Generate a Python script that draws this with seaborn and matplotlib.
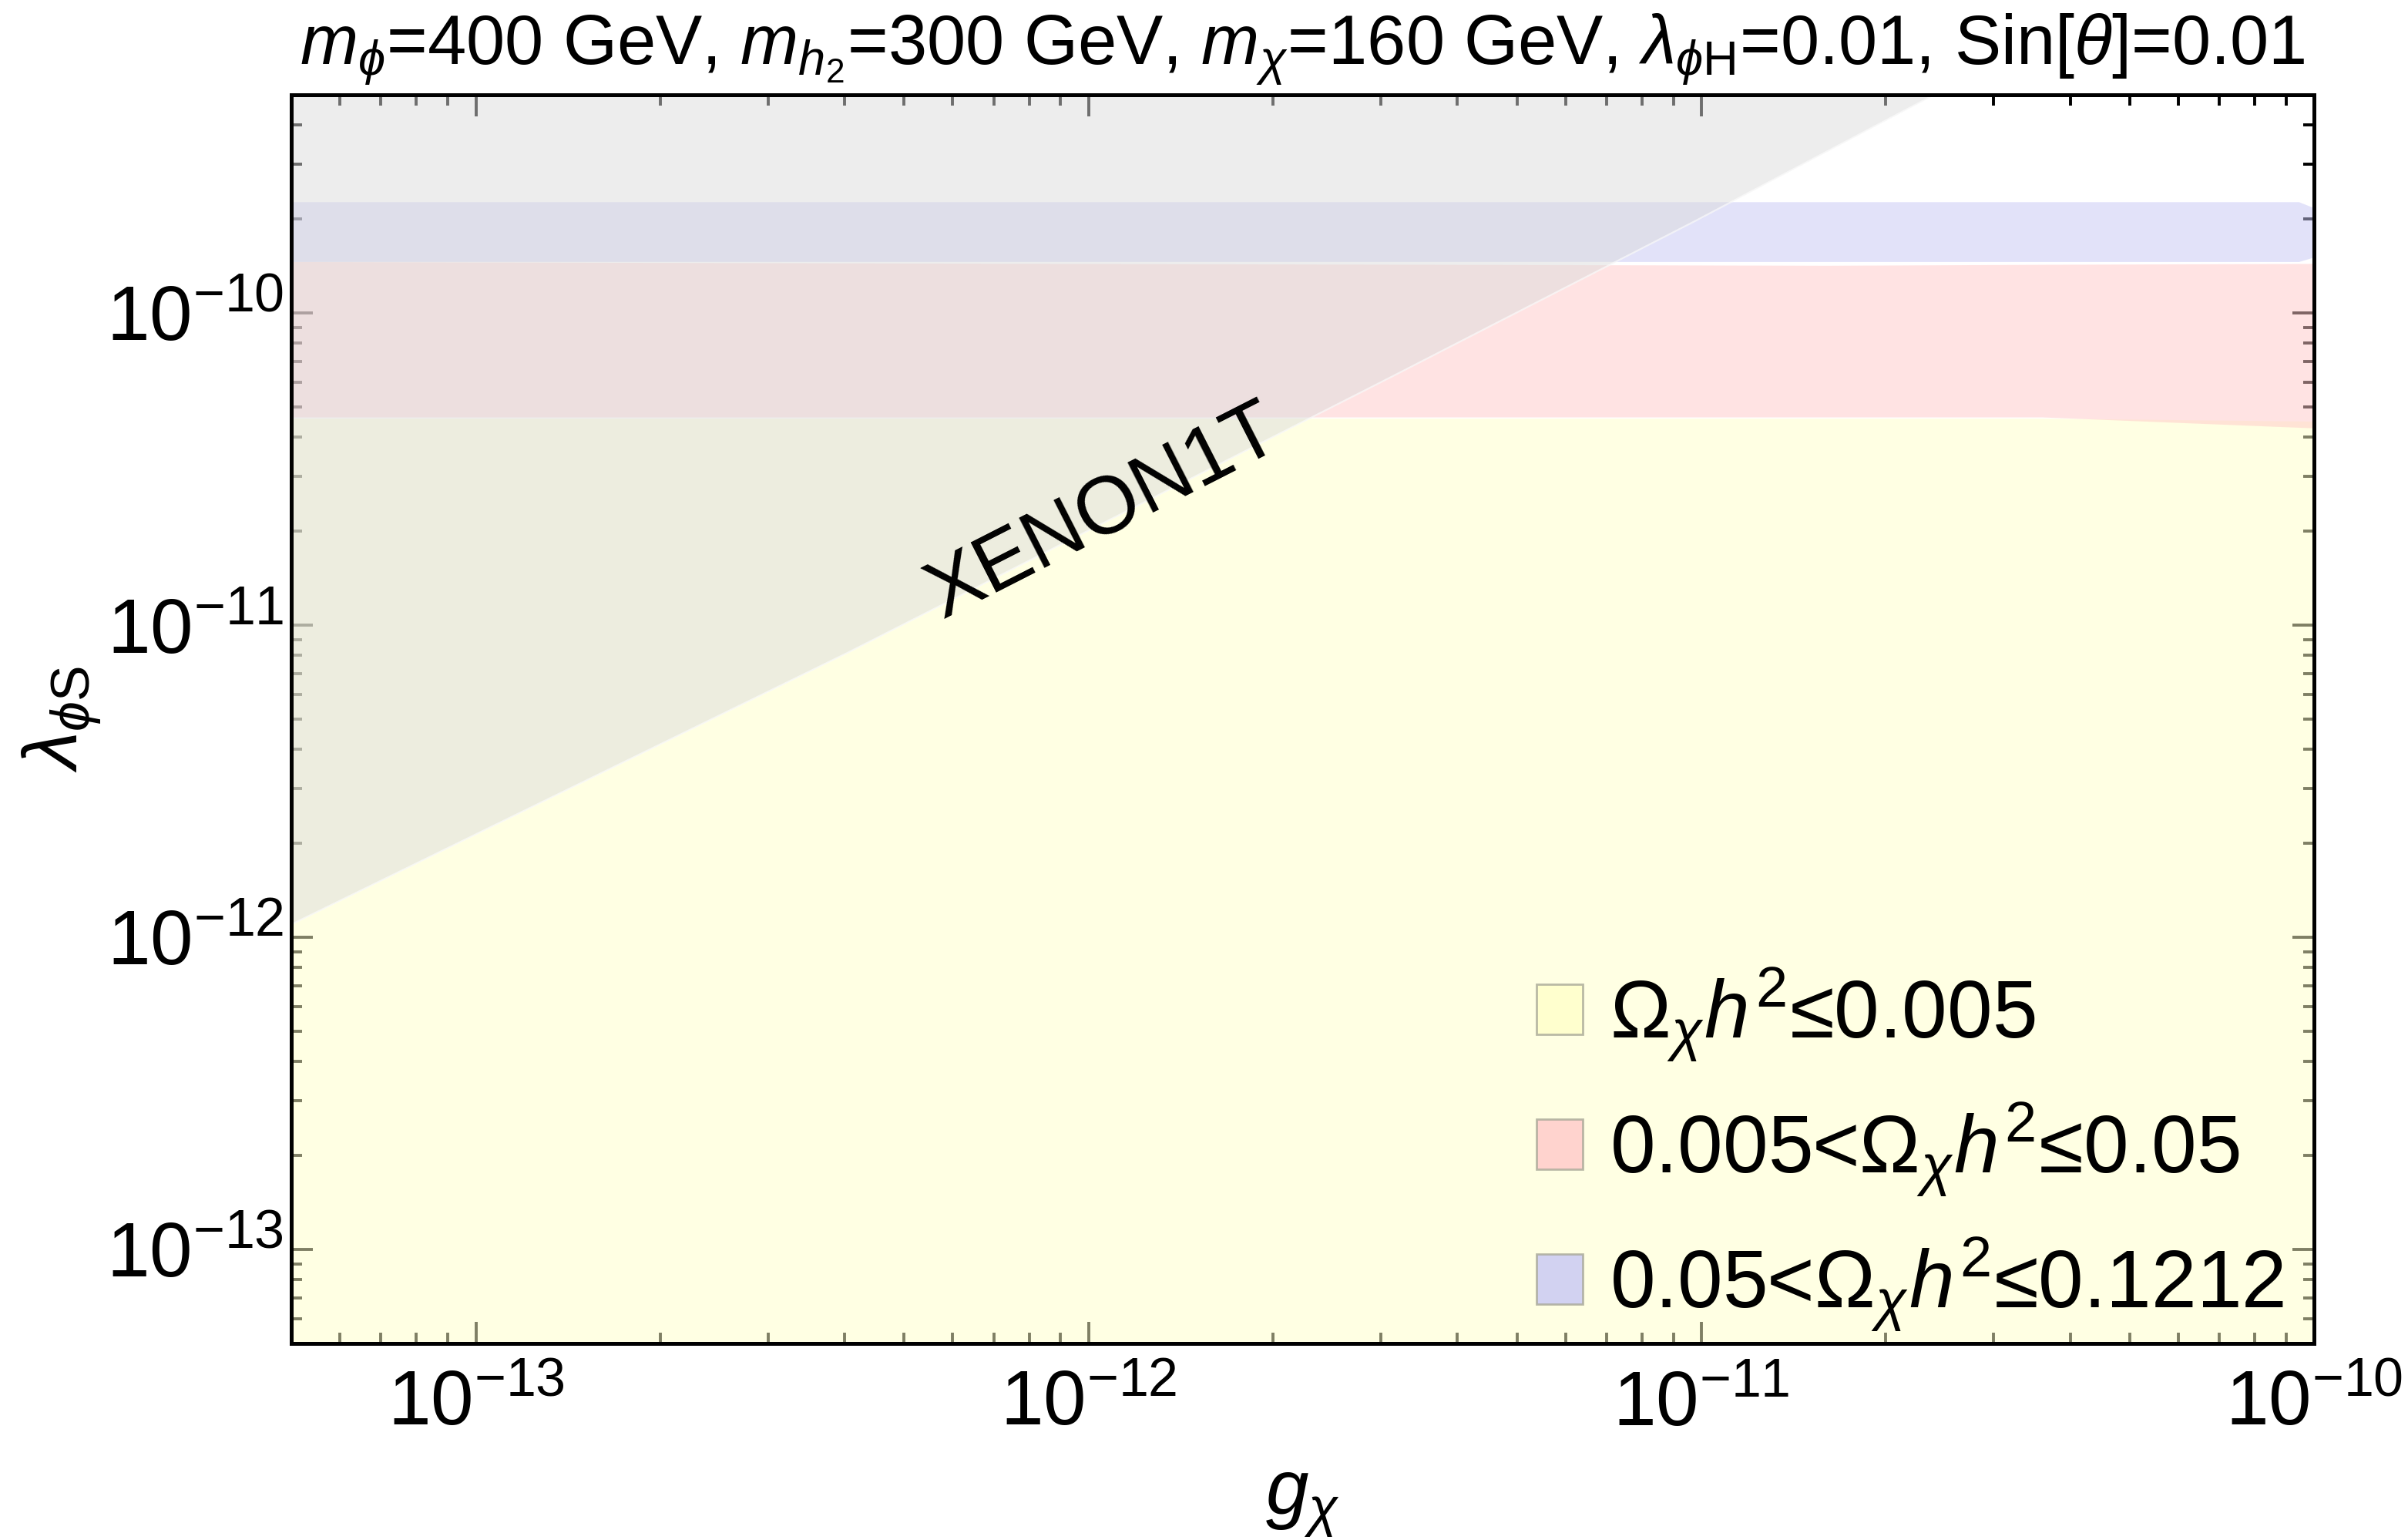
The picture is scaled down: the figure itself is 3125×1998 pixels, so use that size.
import numpy as np
import pandas as pd
import matplotlib
matplotlib.use("Agg")
import matplotlib.pyplot as plt
import seaborn as sns
from matplotlib.patches import Patch
from matplotlib.ticker import LogLocator, NullFormatter

# region boundaries (g_X, lambda_phiS)
g_xenon = [5.0e-14, 4.04e-13, 3.07e-12, 9.77e-12, 2.41e-11]
lam_xenon = [1.10e-12, 8.15e-12, 6.14e-11, 1.97e-10, 5.02e-10]

g_yellow = [5e-14, 3.6e-11, 1e-10]
lam_yellow_top = [4.60e-11, 4.60e-11, 4.50e-11]

g_red = [5e-14, 1.6e-11, 3.6e-11, 1e-10]
lam_red_top = [1.46e-10, 1.42e-10, 1.43e-10, 1.44e-10]
lam_red_bot = [4.64e-11, 4.64e-11, 4.64e-11, 4.28e-11]

g_blue = [5e-14, 1.6e-11, 9.44e-11, 1e-10]
lam_blue_top = [2.27e-10, 2.27e-10, 2.27e-10, 2.17e-10]
lam_blue_bot = [1.46e-10, 1.46e-10, 1.46e-10, 1.51e-10]

legend_labels = [r"$\Omega_\chi h^2$≤0.005",
                 r"0.005<$\Omega_\chi h^2$≤0.05",
                 r"0.05<$\Omega_\chi h^2$≤0.1212"]
fill_colors = ["#ffffc9", "#ffc9c9", "#c7c7f5"]

xlim = (5e-14, 1e-10)
ylim = (5e-14, 5e-10)

sns.set_theme(style="ticks")
plt.rcParams.update({
    "font.family": ["Liberation Sans", "DejaVu Sans"],
    "mathtext.fontset": "custom",
    "mathtext.rm": "Liberation Sans",
    "mathtext.it": "Liberation Sans:italic",
    "mathtext.bf": "Liberation Sans:bold",
    "axes.linewidth": 1.8,
    "axes.edgecolor": "black",
    "text.color": "black",
    "axes.labelcolor": "black",
    "xtick.color": "black",
    "ytick.color": "black",
})

fig = plt.figure(figsize=(15.625, 9.99), dpi=200)
ax = fig.add_axes([0.121, 0.1276, 0.84, 0.8109])

# coloured relic-density bands
ax.fill_between(g_yellow, ylim[0], lam_yellow_top, color=fill_colors[0], alpha=0.5, lw=0)
ax.fill_between(g_red, lam_red_bot, lam_red_top, color=fill_colors[1], alpha=0.5, lw=0)
ax.fill_between(g_blue, lam_blue_bot, lam_blue_top, color=fill_colors[2], alpha=0.5, lw=0)

# XENON1T excluded region
ax.fill_between(g_xenon, lam_xenon, ylim[1], color="#dcdcdc", alpha=0.5, lw=0)
xen = pd.DataFrame({"g": g_xenon, "lam": lam_xenon})
sns.lineplot(data=xen, x="g", y="lam", ax=ax, color="white", lw=0.8, alpha=0.6)

ax.text(1.06e-12, 2.28e-11, "XENON1T", rotation=27, ha="center", va="center",
        rotation_mode="anchor", fontsize=38)

ax.set_xscale("log")
ax.set_yscale("log")
ax.set_xlim(*xlim)
ax.set_ylim(*ylim)

for axis in (ax.xaxis, ax.yaxis):
    axis.set_major_locator(LogLocator(base=10, numticks=20))
    axis.set_minor_locator(LogLocator(base=10, subs=np.arange(2, 10), numticks=20))
    axis.set_minor_formatter(NullFormatter())
ax.tick_params(which="both", direction="in", top=True, right=True, width=1.4,
               labelsize=36, color="black", labelcolor="black")
ax.tick_params(which="major", length=10)
ax.tick_params(which="minor", length=5)
ax.tick_params(axis="y", pad=3.5)
ax.tick_params(axis="x", pad=12)

ax.set_xlabel(r"$g_\chi$", fontsize=36, labelpad=12)
ax.set_ylabel(r"$\lambda_{\phi\mathrm{S}}$", fontsize=36, labelpad=1)
ax.set_title(r"$m_\phi$=400 GeV, $m_{h_2}$=300 GeV, $m_\chi$=160 GeV, "
             r"$\lambda_{\phi\mathrm{H}}$=0.01, Sin[$\theta$]=0.01", fontsize=32.5, pad=14)

handles = [Patch(facecolor=c, edgecolor="#a8a898", lw=1.0, alpha=0.8) for c in fill_colors]
ax.legend(handles, legend_labels, loc="center left", bbox_to_anchor=(0.6156, 0.155),
          frameon=False, fontsize=38, handlelength=0.57, handleheight=0.57,
          handletextpad=0.33, labelspacing=0.46, borderpad=0, borderaxespad=0)

fig.savefig("out.png", dpi=200)
